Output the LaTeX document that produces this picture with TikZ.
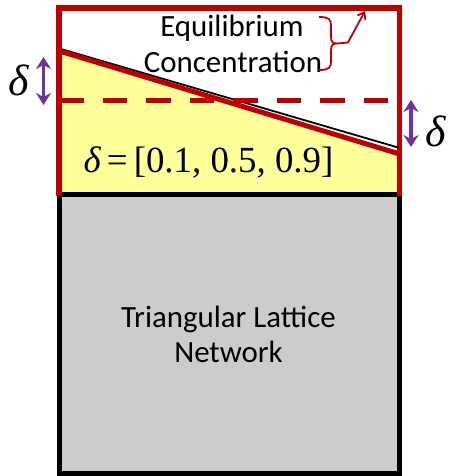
\documentclass[tikz,border=0pt]{standalone}
\usepackage{fontspec}
\setmainfont{Carlito}
\newfontfamily\tms{Liberation Serif}
\usetikzlibrary{arrows.meta}
\definecolor{dred}{HTML}{C00000}
\definecolor{purp}{HTML}{7030A0}
\definecolor{yfill}{HTML}{FFFF99}
\definecolor{gfill}{HTML}{CCCCCC}
\tikzset{
  redwall/.style={dred, line width=5.5bp, line join=miter},
  darrow/.style={purp, line width=3.5bp, {Stealth[length=12bp,width=15bp,inset=4bp]}-{Stealth[length=12bp,width=15bp,inset=4bp]}},
  bigdelta/.style={font=\fontsize{44}{44}\selectfont\tms\itshape, inner sep=0pt},
  sanslabel/.style={anchor=base, font=\fontsize{31}{36}\selectfont, inner sep=0pt}
}
\begin{document}
\begin{tikzpicture}[x=1bp,y=-1bp]
\useasboundingbox (0,0) rectangle (449,476);
% yellow region
\fill[yfill] (59,50) -- (399.5,153) -- (399.5,194) -- (59,194) -- cycle;
% gray network box
\draw[black, line width=5bp, fill=gfill] (59,194.5) rectangle (399.5,473.5);
% red frame
\draw[redwall] (59,196) -- (59,8) -- (399.5,8) -- (399.5,196);
% sloped lines
\draw[black, line width=1.8bp] (61,49) -- (398,147.5);
\draw[dred, line width=5bp] (61,51.5) -- (398,153.5);
% dashed line
\draw[dred, line width=5bp, dash pattern=on 24.5bp off 19bp] (59,100.5) -- (388,100.5);
% purple double arrows
\coordinate (la1) at (43.5,57);
\coordinate (la2) at (43.5,105);
\coordinate (ra1) at (411,100);
\coordinate (ra2) at (411,147);
\draw[darrow] (la1) -- (la2);
\draw[darrow] (ra1) -- (ra2);
% deltas
\node[bigdelta] (dl) at (19,80) {δ};
\node[bigdelta] (dr) at (436,131) {δ};
% equilibrium label
\node[sanslabel] (eq1) at (232,37) {Equilibrium};
\node[sanslabel] (eq2) at (233,73) {Concentration};
% brace and arrow
\coordinate (btop) at (319,17);
\coordinate (bbot) at (319,70);
\coordinate (btip) at (337,43.5);
\coordinate (bend) at (348,42.5);
\coordinate (bhead) at (365,11);
\draw[dred, line width=1.8bp, line join=round]
  (btop) .. controls (330,17) and (331,20) .. (331,26)
  -- (331,37) .. controls (331,42) and (333,43.5) .. (btip)
  .. controls (333,43.5) and (331,45) .. (331,50)
  -- (331,61) .. controls (331,67) and (330,70) .. (bbot);
\draw[dred, line width=1.8bp, -{Straight Barb[length=6bp,width=9bp]}] (btip) -- (bend) -- (bhead);
% equation
\node[inner sep=0pt, font=\fontsize{37}{37}\selectfont\tms] (eqn) at (208.5,162) {{\itshape δ}\,=\,[0.1, 0.5, 0.9]};
% network label
\node[sanslabel] (tl1) at (228.5,327) {Triangular Lattice};
\node[sanslabel] (tl2) at (228.5,362) {Network};
\end{tikzpicture}
\end{document}
